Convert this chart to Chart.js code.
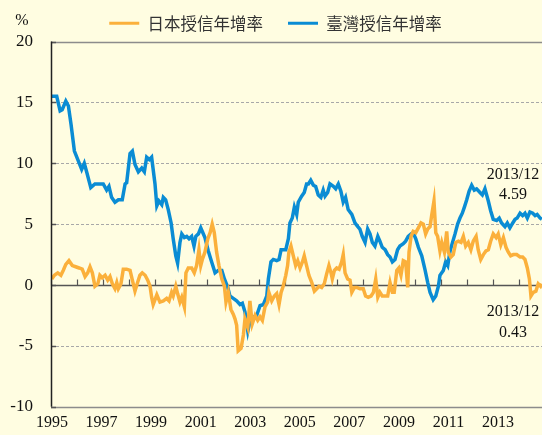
<!DOCTYPE html>
<html>
<head>
<meta charset="utf-8">
<script src="https://cdn.jsdelivr.net/npm/chart.js@4.4.1/dist/chart.umd.min.js"></script>
<style>
    body { margin: 0; background: #FFFDE1; }
    canvas { display: block; }
</style>
</head>
<body>
<canvas id="chart" width="542" height="435"></canvas>
<script>
// Series labels and colours
const japanLabel = '日本授信年增率';
const taiwanLabel = '臺灣授信年增率';

// Year labels shown under the axis
const yearLabels = [1995, 1997, 1999, 2001, 2003, 2005, 2007, 2009, 2011, 2013];
// Year tick marks on the zero line
const yearTicks = [1995, 1996, 1997, 1998, 1999, 2000, 2001, 2002, 2003, 2004, 2005, 2006, 2007, 2008, 2009, 2010, 2011, 2012, 2013];
const yTicks = [20, 15, 10, 5, 0, -5, -10];

// Taiwan lending growth (%), x as decimal year
const taiwanDates = [
    1995.03, 1995.22, 1995.35, 1995.43, 1995.57, 1995.67, 1995.77, 1995.90, 1996.05, 1996.18,
    1996.28, 1996.37, 1996.53, 1996.69, 1996.88, 1997.01, 1997.14, 1997.23, 1997.33, 1997.46,
    1997.59, 1997.74, 1997.85, 1997.91, 1998.04, 1998.13, 1998.23, 1998.36, 1998.49, 1998.59,
    1998.68, 1998.78, 1998.87, 1999.00, 1999.07, 1999.15, 1999.26, 1999.32, 1999.41, 1999.51,
    1999.62, 1999.70, 1999.80, 1999.87, 1999.96, 2000.03, 2000.13, 2000.22, 2000.31, 2000.41,
    2000.50, 2000.57, 2000.67, 2000.76, 2000.82, 2000.92, 2001.05, 2001.18, 2001.31, 2001.43,
    2001.57, 2001.67, 2001.80, 2001.88, 2002.01, 2002.14, 2002.27, 2002.36, 2002.46, 2002.57,
    2002.65, 2002.78, 2002.91, 2003.04, 2003.17, 2003.30, 2003.36, 2003.46, 2003.55, 2003.68,
    2003.77, 2003.85, 2003.93, 2004.03, 2004.13, 2004.19, 2004.28, 2004.36, 2004.45, 2004.51,
    2004.64, 2004.74, 2004.83, 2004.90, 2004.99, 2005.09, 2005.18, 2005.28, 2005.38, 2005.47,
    2005.54, 2005.64, 2005.73, 2005.86, 2005.95, 2006.05, 2006.15, 2006.24, 2006.33, 2006.43,
    2006.57, 2006.69, 2006.80, 2006.88, 2006.97, 2007.08, 2007.18, 2007.27, 2007.36, 2007.46,
    2007.57, 2007.65, 2007.74, 2007.85, 2007.95, 2008.04, 2008.13, 2008.23, 2008.33, 2008.42,
    2008.55, 2008.64, 2008.74, 2008.85, 2008.93, 2009.03, 2009.13, 2009.26, 2009.38, 2009.49,
    2009.58, 2009.70, 2009.80, 2009.90, 2009.96, 2010.09, 2010.18, 2010.26, 2010.35, 2010.43,
    2010.54, 2010.64, 2010.73, 2010.82, 2010.90, 2010.99, 2011.08, 2011.18, 2011.28, 2011.37,
    2011.50, 2011.59, 2011.69, 2011.82, 2011.91, 2012.01, 2012.14, 2012.24, 2012.33, 2012.46,
    2012.55, 2012.65, 2012.76, 2012.85, 2012.93, 2013.04, 2013.14, 2013.23, 2013.32, 2013.42,
    2013.53, 2013.62, 2013.70, 2013.81, 2013.88
];
const taiwanRates = [
    15.5, 15.5, 14.3, 14.4, 15.1, 14.7, 13.2, 11.0, 10.2, 9.5,
    10.0, 9.3, 8.0, 8.3, 8.3, 8.3, 7.8, 8.1, 7.2, 6.8,
    7.0, 7.0, 8.3, 8.4, 10.8, 11.0, 9.9, 9.3, 9.6, 9.3,
    10.5, 10.3, 10.5, 8.3, 6.5, 6.9, 6.6, 7.2, 7.0, 6.2,
    5.1, 3.8, 2.4, 1.8, 3.5, 4.2, 3.9, 4.0, 3.8, 4.0,
    3.2, 4.0, 4.2, 4.7, 4.4, 3.9, 2.8, 1.9, 1.0, 1.2,
    1.2, 0.5, -0.2, -0.9, -1.1, -1.3, -1.6, -1.5, -2.2, -3.8,
    -3.0, -2.6, -2.5, -1.7, -1.6, -0.9, 0.5, 1.9, 2.1, 2.0,
    2.1, 2.9, 2.9, 2.9, 3.8, 5.1, 5.5, 6.4, 5.8, 6.8,
    7.3, 7.6, 8.3, 8.3, 8.6, 8.2, 8.1, 7.4, 7.2, 7.8,
    7.3, 7.6, 8.3, 8.1, 7.9, 8.3, 7.7, 6.8, 7.2, 6.2,
    5.8, 5.1, 4.8, 4.6, 4.0, 3.5, 4.6, 4.2, 3.5, 3.2,
    4.0, 3.6, 3.1, 2.9, 2.5, 2.3, 1.9, 2.1, 2.9, 3.2,
    3.4, 3.6, 4.0, 4.2, 4.3, 3.8, 3.1, 2.4, 1.3, 0.2,
    -0.6, -1.2, -0.9, -0.1, 0.8, 1.2, 1.9, 1.6, 2.8, 3.4,
    4.2, 5.0, 5.5, 5.9, 6.4, 7.0, 7.7, 8.2, 7.8, 7.9,
    7.6, 7.4, 7.9, 6.9, 6.1, 5.4, 5.3, 5.5, 5.1, 4.8,
    5.1, 4.7, 5.1, 5.4, 5.5, 5.9, 5.7, 5.9, 5.5, 6.0,
    5.9, 5.7, 5.8, 5.5, 5.4
];

// Japan lending growth (%), x as decimal year
const japanDates = [
    1995.03, 1995.13, 1995.26, 1995.38, 1995.47, 1995.57, 1995.69, 1995.82, 1995.95, 1996.08,
    1996.20, 1996.31, 1996.41, 1996.50, 1996.59, 1996.69, 1996.80, 1996.88, 1996.97, 1997.08,
    1997.18, 1997.27, 1997.36, 1997.46, 1997.53, 1997.59, 1997.69, 1997.78, 1997.91, 1998.04,
    1998.13, 1998.23, 1998.33, 1998.42, 1998.51, 1998.62, 1998.72, 1998.81, 1998.87, 1998.93,
    1999.07, 1999.19, 1999.32, 1999.45, 1999.54, 1999.64, 1999.70, 1999.80, 1999.87, 1999.96,
    2000.03, 2000.13, 2000.19, 2000.28, 2000.41, 2000.51, 2000.60, 2000.69, 2000.76, 2000.82,
    2000.92, 2001.03, 2001.12, 2001.20, 2001.28, 2001.37, 2001.46, 2001.57, 2001.67, 2001.73,
    2001.82, 2001.92, 2002.01, 2002.08, 2002.14, 2002.20, 2002.31, 2002.40, 2002.46, 2002.57,
    2002.65, 2002.74, 2002.85, 2002.95, 2003.04, 2003.13, 2003.23, 2003.33, 2003.38, 2003.49,
    2003.59, 2003.68, 2003.77, 2003.85, 2003.93, 2004.03, 2004.10, 2004.15, 2004.23, 2004.32,
    2004.41, 2004.49, 2004.58, 2004.67, 2004.74, 2004.83, 2004.92, 2005.03, 2005.13, 2005.22,
    2005.31, 2005.41, 2005.51, 2005.60, 2005.69, 2005.77, 2005.82, 2005.90, 2005.99, 2006.08,
    2006.18, 2006.24, 2006.31, 2006.41, 2006.50, 2006.57, 2006.67, 2006.76, 2006.88, 2007.01,
    2007.10, 2007.20, 2007.31, 2007.40, 2007.49, 2007.57, 2007.65, 2007.74, 2007.85, 2007.95,
    2008.04, 2008.13, 2008.20, 2008.30, 2008.38, 2008.46, 2008.55, 2008.64, 2008.72, 2008.77,
    2008.85, 2008.93, 2009.03, 2009.13, 2009.23, 2009.32, 2009.41, 2009.49, 2009.58, 2009.64,
    2009.73, 2009.80, 2009.87, 2009.96, 2010.03, 2010.13, 2010.22, 2010.28, 2010.38, 2010.47,
    2010.57, 2010.67, 2010.77, 2010.86, 2010.95, 2011.05, 2011.15, 2011.24, 2011.35, 2011.43,
    2011.53, 2011.63, 2011.73, 2011.82, 2011.91, 2012.01, 2012.12, 2012.20, 2012.30, 2012.40,
    2012.50, 2012.59, 2012.68, 2012.78, 2012.91, 2013.04, 2013.14, 2013.23, 2013.32, 2013.40,
    2013.46, 2013.55, 2013.65, 2013.74, 2013.83, 2013.88
];
const japanRates = [
    0.5, 0.8, 1.0, 0.8, 1.2, 1.7, 2.0, 1.6, 1.5, 1.4,
    1.3, 0.7, 1.0, 1.5, 1.0, -0.1, 0.1, 0.8, 0.6, 0.8,
    0.4, 0.7, 0.1, -0.3, 0.2, -0.3, 0.1, 1.3, 1.3, 1.2,
    0.4, -0.5, 0.2, 0.8, 1.0, 0.8, 0.4, -0.1, -1.0, -1.6,
    -0.8, -1.4, -1.3, -1.1, -1.3, -0.6, -0.9, -0.1, -0.7, -1.4,
    -1.0, -1.8, 1.0, 1.4, 1.4, 1.0, 1.6, 2.9, 1.6, 2.1,
    2.7, 3.8, 4.3, 5.0, 4.3, 2.7, 1.6, 0.5, -0.1, -1.4,
    -0.6, -2.0, -2.4, -2.8, -3.3, -5.4, -5.2, -4.1, -2.8, -3.5,
    -1.3, -3.2, -2.5, -2.9, -2.6, -2.9, -1.8, -1.4, -0.6, -1.3,
    -0.9, -0.7, -1.6, -0.6, -0.1, 0.8, 1.6, 2.7, 3.2, 2.4,
    1.6, 2.0, 1.4, 1.9, 2.4, 1.6, 0.8, 0.2, -0.5, -0.3,
    -0.1, -0.2, 0.1, 0.9, 1.6, 1.0, 0.5, 1.2, 1.4, 1.3,
    1.9, 2.5, 1.0, 0.5, 0.4, -0.6, -0.2, -0.2, -0.3, -0.3,
    -0.9, -1.0, -0.9, -0.6, 0.5, -1.0, -0.6, -0.9, -0.9, -0.9,
    0.2, -0.6, -0.6, 1.2, 1.4, 0.8, 2.0, 1.9, -0.2, 2.7,
    4.0, 4.4, 4.3, 4.7, 5.1, 5.0, 4.2, 4.6, 4.8, 5.7,
    6.9, 4.3, 4.0, 2.8, 3.5, 2.7, 4.4, 2.7, 2.3, 2.5,
    3.5, 3.6, 3.5, 4.0, 3.2, 3.5, 2.9, 3.6, 4.0, 2.9,
    2.1, 2.5, 2.8, 2.9, 3.6, 4.2, 3.9, 4.2, 3.3, 3.9,
    3.1, 2.7, 2.4, 2.5, 2.5, 2.3, 2.3, 2.1, 1.4, 0.5,
    -0.9, -0.6, -0.5, 0.1, -0.1, 0.1
];

// Latest-value notes
const noteTaiwan = ['2013/12', '4.59'];
const noteJapan = ['2013/12', '0.43'];

const japanColor = '#FBB03B';
const taiwanColor = '#0A8CD4';
const serif = "'Liberation Serif', 'Times New Roman', serif";

function toPoints(dates, rates) {
    return dates.map((d, i) => ({ x: d, y: rates[i] }));
}

// Grid lines, axis lines, tick marks and notes
const framePlugin = {
    id: 'frame',
    beforeDatasetsDraw(chart) {
        const { ctx, chartArea, scales } = chart;
        const y = scales.y;
        const x = scales.x;
        ctx.save();
        yTicks.forEach(v => {
            const py = Math.round(y.getPixelForValue(v)) + 0.5;
            ctx.beginPath();
            if (v === 20 || v === -10) {
                ctx.setLineDash([]);
                ctx.strokeStyle = '#8C8C8C';
                ctx.lineWidth = 1.5;
            } else if (v === 0) {
                ctx.setLineDash([]);
                ctx.strokeStyle = '#555555';
                ctx.lineWidth = 1.5;
            } else {
                ctx.setLineDash([3, 2]);
                ctx.strokeStyle = '#A8A8A8';
                ctx.lineWidth = 1;
            }
            ctx.moveTo(chartArea.left, py);
            ctx.lineTo(chartArea.right, py);
            ctx.stroke();
            // short tick inside the plot
            ctx.setLineDash([]);
            ctx.strokeStyle = '#555555';
            ctx.lineWidth = 1.5;
            ctx.beginPath();
            ctx.moveTo(chartArea.left, py);
            ctx.lineTo(chartArea.left + 5, py);
            ctx.stroke();
        });
        // year ticks on zero line
        const zeroY = Math.round(y.getPixelForValue(0)) + 0.5;
        ctx.strokeStyle = '#555555';
        ctx.lineWidth = 1.2;
        yearTicks.forEach(yr => {
            const px = Math.round(x.getPixelForValue(yr)) + 0.5;
            ctx.beginPath();
            ctx.moveTo(px, zeroY);
            ctx.lineTo(px, zeroY - 6);
            ctx.stroke();
        });
        ctx.restore();
    },
    afterDatasetsDraw(chart) {
        const { ctx, chartArea } = chart;
        ctx.save();
        ctx.strokeStyle = '#222222';
        ctx.lineWidth = 1.5;
        ctx.beginPath();
        ctx.moveTo(chartArea.left + 0.5, chartArea.top);
        ctx.lineTo(chartArea.left + 0.5, chartArea.bottom);
        ctx.stroke();
        ctx.restore();
    },
    afterDraw(chart) {
        const { ctx } = chart;
        ctx.save();
        ctx.fillStyle = '#111111';
        ctx.font = '16px ' + serif;
        ctx.textAlign = 'center';
        ctx.textBaseline = 'middle';
        ctx.fillText('%', 22, 21);
        ctx.fillText(noteTaiwan[0], 513, 175);
        ctx.fillText(noteTaiwan[1], 513, 195);
        ctx.fillText(noteJapan[0], 513, 312);
        ctx.fillText(noteJapan[1], 513, 333);
        ctx.restore();
    }
};

const ctx = document.getElementById('chart').getContext('2d');
new Chart(ctx, {
    type: 'line',
    data: {
        datasets: [{
            label: japanLabel,
            data: toPoints(japanDates, japanRates),
            borderColor: japanColor,
            backgroundColor: japanColor,
            borderWidth: 3.5,
            pointRadius: 0,
            tension: 0
        }, {
            label: taiwanLabel,
            data: toPoints(taiwanDates, taiwanRates),
            borderColor: taiwanColor,
            backgroundColor: taiwanColor,
            borderWidth: 3.5,
            pointRadius: 0,
            tension: 0
        }]
    },
    options: {
        responsive: false,
        animation: false,
        layout: {
            padding: { top: -10, left: 9, right: 0, bottom: 0 }
        },
        plugins: {
            legend: {
                display: true,
                position: 'top',
                labels: {
                    boxWidth: 30,
                    boxHeight: 3,
                    padding: 25,
                    color: '#333333',
                    font: { family: "'Noto Sans CJK TC', sans-serif", size: 16.5 },
                    generateLabels(chart) {
                        const items = Chart.defaults.plugins.legend.labels.generateLabels(chart);
                        return items.map(it => Object.assign(it, { lineWidth: 0 }));
                    }
                }
            },
            tooltip: { enabled: false }
        },
        scales: {
            x: {
                type: 'linear',
                display: false,
                min: 1995,
                max: 2013.885
            },
            x2: {
                type: 'linear',
                position: 'bottom',
                min: 1994.96,
                max: 2014.775,
                grid: { display: false },
                border: { display: false },
                afterBuildTicks(scale) {
                    scale.ticks = yearLabels.map(v => ({ value: v }));
                },
                afterFit(scale) {
                    scale.height = 27;
                },
                ticks: {
                    autoSkip: false,
                    maxRotation: 0,
                    padding: -2,
                    color: '#111111',
                    font: { family: serif, size: 16 },
                    callback: value => String(value)
                }
            },
            y: {
                min: -10,
                max: 20,
                grid: { display: false, drawTicks: false },
                border: { display: false },
                afterBuildTicks(scale) {
                    scale.ticks = yTicks.map(v => ({ value: v }));
                },
                afterFit(scale) {
                    scale.width = 42;
                },
                ticks: {
                    padding: 18,
                    color: '#111111',
                    font: { family: serif, size: 17 }
                }
            }
        }
    },
    plugins: [framePlugin]
});
</script>
</body>
</html>
